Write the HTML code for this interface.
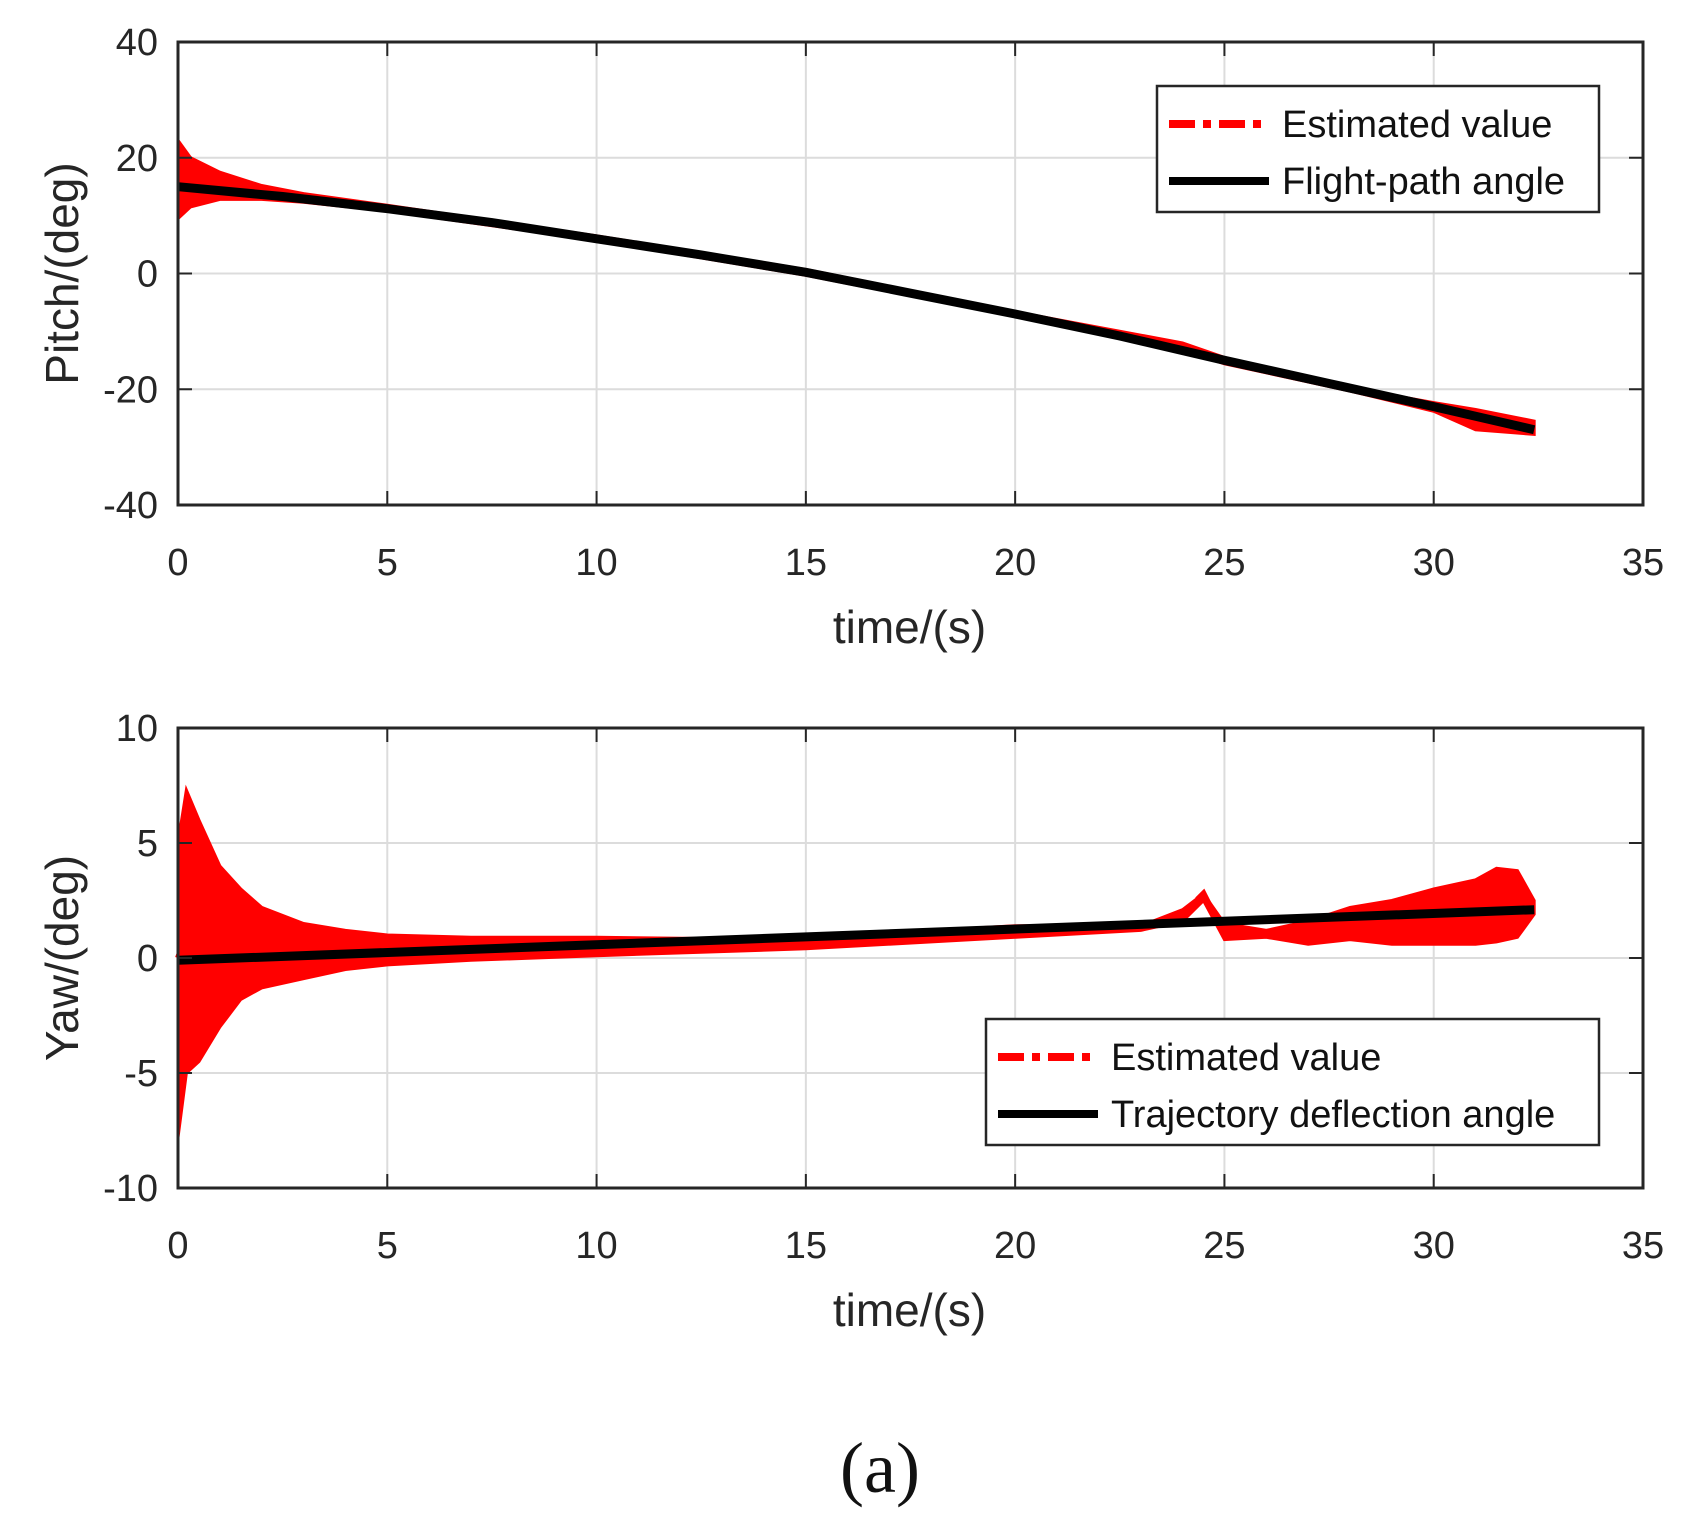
<!DOCTYPE html>
<html><head><meta charset="utf-8"><style>
html,body{margin:0;padding:0;background:#fff;}
svg{display:block;font-family:"Liberation Sans",Arial,sans-serif;}
</style></head><body>
<svg id="fig" width="1699" height="1528" viewBox="0 0 1699 1528">
<g id="p1"></g>
<g id="p2"></g>
<text x="880" y="1492" text-anchor="middle" font-family="Liberation Serif,serif" font-size="72" fill="#111">(a)</text>
</svg>
<script>
// ---- data ----
const xTicks = [0,5,10,15,20,25,30,35];
const pitchTicks = [-40,-20,0,20,40];
const yawTicks = [-10,-5,0,5,10];
const pitchT = [0,2.5,5,7.5,10,12.5,15,17.5,20,22.5,25,27.5,30,32.4];
const pitchTrue = [15,13.3,11.2,8.8,6,3.2,0.2,-3.4,-7,-10.8,-15,-19,-23,-27];
const pitchUpT = [0,0.3,1,2,3,5,10,15,20,24,25,28,30,31,32.4];
const pitchUp = [23,20,17.5,15.2,13.8,11.8,6.5,0.7,-6.6,-12,-14.5,-19.7,-22.3,-23.5,-25.5];
const pitchLo = [9.5,11.5,12.8,12.8,12.3,10.8,5.7,-0.3,-7.4,-13.2,-15.6,-20.3,-23.8,-27,-27.8];
const yawT = [0,32.4];
const yawTrue = [-0.1,2.1];
const yawEnvT = [0,0.2,0.5,1,1.5,2,3,4,5,7,10,15,18,20,23,24,24.5,25,26,27,28,29,30,31,31.5,32,32.4];
const yawUp = [5,7.3,6,4,3,2.2,1.5,1.2,1.0,0.9,0.9,0.8,1.2,1.4,1.4,2.1,2.8,1.5,1.2,1.6,2.2,2.5,3.0,3.4,3.9,3.8,2.5];
const yawLo = [-7.8,-5,-4.5,-3,-1.8,-1.3,-0.9,-0.5,-0.3,-0.1,0.1,0.4,0.7,0.9,1.2,1.6,2.5,0.8,0.9,0.6,0.8,0.6,0.6,0.6,0.7,0.9,1.9];
const yawEst = [0,1,0.5,0.2,0.3,0.3,0.2,0.3,0.3,0.4,0.5,0.6,0.9,1.2,1.3,1.9,2.8,1.0,1.0,1.1,1.3,1.4,1.6,2.0,2.3,2.5,2.2];

const NS="http://www.w3.org/2000/svg";
function mk(parent,tag,attrs){const e=document.createElementNS(NS,tag);for(const k in attrs)e.setAttribute(k,attrs[k]);parent.appendChild(e);return e;}
const L=178,R=1643,W=R-L;
function xs(t){return L+t/35*W;}

function drawChart(g,top,bot,ymin,ymax,yTicks,ylab,cfg){
  const ys=v=>bot-(v-ymin)/(ymax-ymin)*(bot-top);
  xTicks.forEach(t=>{const l=mk(g,'line',{x1:xs(t),x2:xs(t),y1:top,y2:bot,stroke:'#dcdcdc','stroke-width':2});
    
    });
  yTicks.forEach(v=>{const l=mk(g,'line',{x1:L,x2:R,y1:ys(v),y2:ys(v),stroke:'#dcdcdc','stroke-width':2});
    
    });
  cfg.draw(g,ys);
  const b=mk(g,'rect',{x:L,y:top,width:W,height:bot-top,fill:'none',stroke:'#262626','stroke-width':3});
  
  
  xTicks.forEach(t=>{
    mk(g,'line',{x1:xs(t),x2:xs(t),y1:bot,y2:bot-14,stroke:'#262626','stroke-width':2});
    mk(g,'line',{x1:xs(t),x2:xs(t),y1:top,y2:top+14,stroke:'#262626','stroke-width':2});
    const tx=mk(g,'text',{x:xs(t),y:bot+70,'text-anchor':'middle','font-size':38,fill:'#262626'});
    tx.textContent=t;
    
    
  });
  yTicks.forEach(v=>{
    mk(g,'line',{x1:L,x2:L+14,y1:ys(v),y2:ys(v),stroke:'#262626','stroke-width':2});
    mk(g,'line',{x1:R,x2:R-14,y1:ys(v),y2:ys(v),stroke:'#262626','stroke-width':2});
    const tx=mk(g,'text',{x:L-20,y:ys(v)+13,'text-anchor':'end','font-size':38,fill:'#262626'});
    tx.textContent=v;
    
    
  });
  const xl=mk(g,'text',{x:(L+R)/2-1,y:bot+138,'text-anchor':'middle','font-size':46,fill:'#262626'});
  xl.textContent='time/(s)';
  
  
  const cy=(top+bot)/2;
  const yl=mk(g,'text',{x:0,y:0,transform:`translate(78,${cy}) rotate(-90)`,'text-anchor':'middle','font-size':46,fill:'#262626'});
  yl.textContent=ylab;
  
  
  const lg=cfg.legend;
  const lb=mk(g,'rect',{x:lg.x,y:lg.y,width:lg.w,height:lg.h,fill:'#fff',stroke:'#262626','stroke-width':2.5});
  
  
  lg.items.forEach((it,i)=>{
    const yy=lg.y+38+i*57;
    mk(g,'line',{x1:lg.x+12,x2:lg.x+112,y1:yy,y2:yy,stroke:it.c,'stroke-width':8,'stroke-dasharray':it.dash||'none'});
    const t=mk(g,'text',{x:lg.x+125,y:yy+13,'font-size':38,fill:'#111'});
    t.textContent=it.label;
    
    
  });
}
function band(g,T,up,lo,ys,name){
  let d='M'+T.map((t,i)=>xs(t)+','+ys(up[i])).join('L');
  for(let i=T.length-1;i>=0;i--)d+='L'+xs(T[i])+','+ys(lo[i]);
  const p=mk(g,'path',{d:d+'Z',fill:'#f00',stroke:'#f00','stroke-width':3});
  
  
}
function line(g,T,V,ys,attrs,name){
  const p=mk(g,'polyline',Object.assign({points:T.map((t,i)=>xs(t)+','+ys(V[i])).join(' '),fill:'none'},attrs));
  
  
}
drawChart(document.getElementById('p1'),42,505,-40,40,pitchTicks,'Pitch/(deg)',{
  draw:(g,ys)=>{
    band(g,pitchUpT,pitchUp,pitchLo,ys,'pitch-estimate-band');
    line(g,pitchT,pitchTrue,ys,{stroke:'#000','stroke-width':9},'flight-path-angle-line');
  },
  legend:{x:1157,y:86,w:442,h:126,items:[{c:'#f00',dash:'26 8 8 8',label:'Estimated value'},{c:'#000',label:'Flight-path angle'}]}
});
drawChart(document.getElementById('p2'),728,1188,-10,10,yawTicks,'Yaw/(deg)',{
  draw:(g,ys)=>{
    band(g,yawEnvT,yawUp,yawLo,ys,'yaw-estimate-band');
    line(g,yawEnvT,yawEst,ys,{stroke:'#f00','stroke-width':6,'stroke-dasharray':'26 8 8 8'},'yaw-estimated-line');
    line(g,yawT,yawTrue,ys,{stroke:'#000','stroke-width':9},'trajectory-deflection-angle-line');
  },
  legend:{x:986,y:1019,w:613,h:126,items:[{c:'#f00',dash:'26 8 8 8',label:'Estimated value'},{c:'#000',label:'Trajectory deflection angle'}]}
});
</script>
</body></html>
